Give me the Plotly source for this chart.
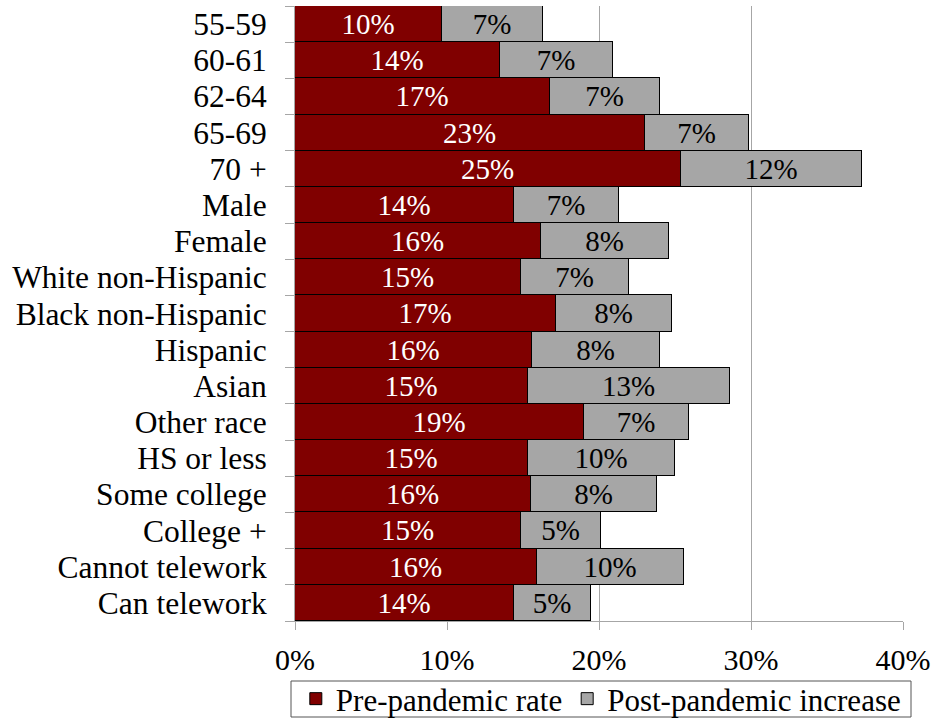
import plotly.graph_objects as go

categories = ["55-59", "60-61", "62-64", "65-69", "70 +", "Male", "Female",
              "White non-Hispanic", "Black non-Hispanic", "Hispanic", "Asian",
              "Other race", "HS or less", "Some college", "College +",
              "Cannot telework", "Can telework"]
pre_rate = [9.7, 13.5, 16.8, 23.0, 25.4, 14.4, 16.2, 14.9, 17.2, 15.6, 15.3,
            19.0, 15.3, 15.5, 14.9, 15.9, 14.4]
post_increase = [6.6, 7.4, 7.2, 6.9, 11.9, 6.9, 8.4, 7.1, 7.6, 8.4, 13.3,
                 6.9, 9.7, 8.3, 5.2, 9.7, 5.1]
x_ticks = [0, 0.1, 0.2, 0.3, 0.4]
x_tick_labels = ["0%", "10%", "20%", "30%", "40%"]

pre = [v / 100 for v in pre_rate]
post = [v / 100 for v in post_increase]

FONT = '"Times New Roman", "Liberation Serif", Times, serif'

fig = go.Figure()
fig.add_trace(go.Bar(
    y=categories, x=pre, orientation="h", name="Pre-pandemic rate",
    marker=dict(color="#800000", line=dict(color="black", width=1)),
    text=pre, texttemplate="%{x:.0%}", textposition="inside",
    insidetextanchor="middle", constraintext="none",
    textfont=dict(color="white", size=29, family=FONT),
))
fig.add_trace(go.Bar(
    y=categories, x=post, orientation="h", name="Post-pandemic increase",
    marker=dict(color="#a6a6a6", line=dict(color="black", width=1)),
    text=post, texttemplate="%{x:.0%}", textposition="inside",
    insidetextanchor="middle", constraintext="none",
    textfont=dict(color="black", size=29, family=FONT),
))

# legend frame
fig.add_shape(type="rect", xref="paper", yref="paper",
              x0=(291 - 295) / 608, x1=(911 - 295) / 608,
              y0=(621 - 681) / 615, y1=(621 - 717) / 615,
              line=dict(color="#555555", width=1), fillcolor="rgba(0,0,0,0)",
              layer="above")

fig.update_layout(
    barmode="stack", bargap=0.0,
    width=933, height=719,
    margin=dict(l=295, r=30, t=6, b=98, autoexpand=False),
    paper_bgcolor="white", plot_bgcolor="white",
    font=dict(family=FONT, size=30, color="black"),
    legend=dict(orientation="h", traceorder="normal",
                x=0.503, xanchor="center", xref="paper",
                y=(719 - 699) / 719, yanchor="middle", yref="container",
                bgcolor="rgba(0,0,0,0)", borderwidth=0,
                font=dict(size=31, family=FONT),
                itemwidth=30, tracegroupgap=0),
    xaxis=dict(range=[0, 0.4], tickvals=x_ticks, ticktext=x_tick_labels,
               showgrid=True, gridcolor="#a6a6a6", gridwidth=1,
               showline=True, linecolor="#a6a6a6", linewidth=1,
               ticks="outside", ticklen=8, tickcolor="#a6a6a6",
               ticklabelstandoff=4, zeroline=False,
               tickfont=dict(size=30, family=FONT)),
    yaxis=dict(autorange="reversed", showline=True, linecolor="#a6a6a6",
               linewidth=1, ticks="outside", tickson="boundaries", ticklen=9,
               tickmode="array", tickvals=categories, ticktext=categories,
               tickcolor="#a6a6a6", showgrid=False, ticklabelstandoff=21,
               tickfont=dict(size=31.5, family=FONT)),
)

fig.write_html("out.html")
